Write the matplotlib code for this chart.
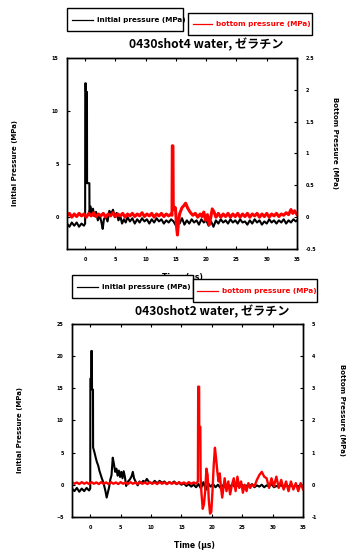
import matplotlib
matplotlib.use("Agg")
import matplotlib.pyplot as plt
from matplotlib.patches import Rectangle
from matplotlib.lines import Line2D

# ---- datos: disparo 4 (arriba) ----
t_init4 = [-3.0, -2.6, -2.2, -1.8, -1.4, -1.0, -0.6, -0.2, 0.0,
           0.02, 0.12, 0.14, 0.3, 0.32, 0.7, 0.72,
           0.9, 1.1, 1.3, 1.5, 1.8, 2.1, 2.4, 2.7, 2.9, 3.1, 3.4, 3.7, 4.0, 4.3,
           4.6, 4.9, 5.2, 5.5, 5.8, 6.1, 6.4, 6.7, 7.0, 7.4, 7.8, 8.2, 8.6, 9.0,
           9.4, 9.8, 10.2, 10.6, 11.0, 11.4, 11.8, 12.2, 12.6, 13.0, 13.4, 13.8,
           14.2, 14.6, 15.0, 15.3, 15.6, 16.0, 16.4, 16.8, 17.2, 17.6, 18.0,
           18.4, 18.8, 19.2, 19.6, 20.0, 20.4, 20.8, 21.2, 21.6, 22.0, 22.4,
           22.8, 23.2, 23.6, 24.0, 24.4, 24.8, 25.2, 25.6, 26.0, 26.4, 26.8,
           27.2, 27.6, 28.0, 28.4, 28.8, 29.2, 29.6, 30.0, 30.4, 30.8, 31.2,
           31.6, 32.0, 32.4, 32.8, 33.2, 33.6, 34.0, 34.4, 34.8, 35.0]
p_init4 = [-0.6, -0.9, -0.5, -0.8, -0.5, -0.9, -0.6, -0.8, -0.6,
           12.6, 12.6, 11.8, 11.8, 3.2, 3.2, 0.4,
           1.0, 0.3, 0.8, 0.1, 0.5, -0.3, 0.2, -0.5, -1.1, -0.2, 0.1, -0.4, 0.6, 0.3,
           0.7, 0.0, 0.4, -0.3, 0.1, -0.6, -0.2, -0.5, 0.0, -0.4, -0.1, -0.6, -0.2, -0.5,
           -0.1, -0.4, -0.2, -0.6, -0.2, -0.5, -0.1, -0.4, -0.2, -0.6, -0.3, -0.5,
           -0.2, -0.4, -0.8, -0.2, -0.6, -0.1, -0.7, -0.3, -0.6, -0.2, -0.5,
           -0.3, -0.7, -0.2, -0.5, -0.3, -0.8, -0.4, -0.9, -0.3, -0.6, -0.2,
           -0.5, -0.3, -0.6, -0.2, -0.5, -0.3, -0.6, -0.2, -0.5, -0.4, -0.7,
           -0.3, -0.6, -0.2, -0.5, -0.3, -0.7, -0.4, -0.6, -0.2, -0.5, -0.3,
           -0.6, -0.3, -0.5, -0.2, -0.6, -0.3, -0.5, -0.2, -0.4, -0.3]

t_bot4 = [-3.0, -2.6, -2.2, -1.8, -1.4, -1.0, -0.6, -0.2, 0.2, 0.6, 1.0, 1.4,
          1.8, 2.2, 2.6, 3.0, 3.4, 3.8, 4.2, 4.6, 5.0, 5.4, 5.8, 6.2, 6.6, 7.0,
          7.4, 7.8, 8.2, 8.6, 9.0, 9.4, 9.8, 10.2, 10.6, 11.0, 11.4, 11.8, 12.2,
          12.6, 13.0, 13.4, 13.8, 14.2, 14.35,
          14.4, 14.5, 14.55, 14.7, 14.9, 15.0, 15.1, 15.25, 15.4, 15.6, 15.8,
          16.0, 16.3, 16.6, 16.9, 17.2, 17.5, 17.8, 18.2, 18.6, 19.0, 19.3,
          19.6, 19.9, 20.2, 20.5, 20.8, 21.0, 21.3, 21.6, 22.0, 22.4, 22.8,
          23.2, 23.6, 24.0, 24.4, 24.8, 25.2, 25.6, 26.0, 26.4, 26.8, 27.2,
          27.6, 28.0, 28.4, 28.8, 29.2, 29.6, 30.0, 30.4, 30.8, 31.2, 31.6,
          32.0, 32.4, 32.8, 33.2, 33.6, 34.0, 34.3, 34.6, 35.0]
p_bot4 = [0.02, 0.06, 0.0, 0.05, 0.01, 0.06, 0.02, 0.05, 0.0, 0.06, 0.02, 0.07,
          0.01, 0.05, 0.02, 0.06, 0.0, 0.05, 0.02, 0.07, 0.01, 0.05, 0.02, 0.06, 0.0, 0.05,
          0.02, 0.06, 0.01, 0.05, 0.02, 0.07, 0.01, 0.05, 0.02, 0.06, 0.0, 0.05, 0.02,
          0.06, 0.01, 0.05, 0.02, 0.05, 0.03,
          1.12, 1.12, 0.2, 0.12, 0.15, 0.02, -0.15, -0.28, -0.1, 0.05, 0.1,
          0.15, 0.18, 0.22, 0.15, 0.1, 0.06, 0.03, 0.06, 0.0, 0.05, 0.01,
          0.08, -0.05, 0.04, -0.12, 0.02, 0.13, 0.08, 0.0, 0.06, 0.0, 0.05,
          0.01, 0.06, 0.0, 0.05, 0.01, 0.06, 0.0, 0.05, 0.01, 0.06, 0.0,
          0.05, 0.02, 0.06, 0.0, 0.05, 0.01, 0.06, 0.0, 0.05, 0.02, 0.06,
          0.01, 0.05, 0.03, 0.07, 0.04, 0.12, 0.06, 0.1, 0.04]

# ---- datos: disparo 2 (abajo) ----
t_init2 = [-3.0, -2.6, -2.2, -1.8, -1.4, -1.0, -0.6, -0.2, 0.0,
           0.02, 0.15, 0.17, 0.27, 0.29, 0.45, 0.47,
           0.7, 0.9, 1.1, 1.3, 1.5, 1.7, 1.9, 2.1, 2.3, 2.5, 2.7, 2.9, 3.1, 3.3,
           3.5, 3.7, 3.9, 4.1, 4.3, 4.5, 4.7, 4.9, 5.1, 5.3, 5.5, 5.7, 5.9, 6.1,
           6.3, 6.5, 6.8, 7.0, 7.2, 7.5, 7.8, 8.1, 8.4, 8.7, 9.0, 9.3, 9.6, 9.9,
           10.2, 10.6, 11.0, 11.4, 11.8, 12.2, 12.6, 13.0, 13.4, 13.8, 14.2,
           14.6, 15.0, 15.4, 15.8, 16.2, 16.6, 17.0, 17.4, 17.8, 18.2, 18.6,
           19.0, 19.4, 19.8, 20.2, 20.6, 21.0, 21.4, 21.8, 22.2, 22.6, 23.0,
           23.4, 23.8, 24.2, 24.6, 25.0, 25.4, 25.8, 26.2, 26.6, 27.0, 27.4,
           27.8, 28.2, 28.6, 29.0, 29.4, 29.8, 30.2, 30.6, 31.0, 31.4, 31.8,
           32.2, 32.6, 33.0, 33.4, 33.8, 34.2, 34.6, 35.0]
p_init2 = [-0.6, -1.0, -0.5, -1.1, -0.6, -1.0, -0.5, -0.9, -0.6,
           16.5, 16.5, 20.8, 20.8, 14.8, 14.8, 5.8,
           5.0, 4.2, 3.5, 3.0, 2.2, 1.6, 1.0, 0.5, -0.2, -1.0, -2.0, -1.2, -0.4, 0.8,
           1.5, 4.2, 3.2, 2.0, 2.5, 1.4, 2.2, 1.2, 2.0, 1.0, 2.1, 1.2, -0.2, 0.3,
           0.6, 0.8, 1.3, 2.0, 1.0, 0.4, -0.1, 0.5, 0.2, 0.6, 0.4, 0.9, 0.5, 0.3,
           0.2, 0.6, 0.2, 0.6, 0.3, 0.5, 0.1, 0.4, 0.2, 0.5, 0.1,
           0.3, 0.0, 0.2, -0.2, 0.1, -0.3, 0.0, -0.4, 0.1, -0.6, 0.4,
           -0.8, 0.2, -0.3, 0.1, -0.4, 0.0, -0.5, -0.1, -0.4, 0.0, -0.3,
           0.1, -0.4, -0.1, -0.3, 0.0, -0.5, -0.1, -0.3, 0.1, -0.4, -0.1,
           -0.3, 0.0, -0.4, -0.1, -0.3, 0.1, -0.4, -0.2, -0.3, 0.0, -0.5,
           -0.1, -0.3, 0.0, -0.4, -0.1, -0.3, 0.0, -0.2]

t_bot2 = [-3.0, -2.6, -2.2, -1.8, -1.4, -1.0, -0.6, -0.2, 0.2, 0.6, 1.0, 1.4,
          1.8, 2.2, 2.6, 3.0, 3.4, 3.8, 4.2, 4.6, 5.0, 5.4, 5.8, 6.2, 6.6, 7.0,
          7.4, 7.8, 8.2, 8.6, 9.0, 9.4, 9.8, 10.2, 10.6, 11.0, 11.4, 11.8, 12.2,
          12.6, 13.0, 13.4, 13.8, 14.2, 14.6, 15.0, 15.4, 15.8, 16.2, 16.6, 17.0,
          17.4, 17.7,
          17.75, 17.9, 17.92, 18.1, 18.15, 18.3, 18.5, 18.7, 18.9, 19.1, 19.3,
          19.5, 19.7, 19.9, 20.1, 20.3, 20.5, 20.7, 20.9, 21.1, 21.3, 21.5, 21.7,
          21.9, 22.1, 22.4, 22.7, 23.0, 23.3, 23.6, 23.9, 24.2, 24.5, 24.8, 25.1,
          25.4, 25.7, 26.0, 26.3, 26.6, 27.0, 27.4, 27.8, 28.2, 28.6, 29.0, 29.4,
          29.8, 30.2, 30.6, 31.0, 31.4, 31.8, 32.2, 32.6, 33.0, 33.4, 33.8, 34.2,
          34.6, 35.0]
p_bot2 = [0.08, 0.03, 0.07, 0.02, 0.08, 0.03, 0.07, 0.02, 0.08, 0.03, 0.07, 0.02,
          0.08, 0.03, 0.07, 0.02, 0.08, 0.03, 0.07, 0.02, 0.08, 0.03, 0.07, 0.02, 0.08, 0.03,
          0.07, 0.02, 0.08, 0.03, 0.07, 0.02, 0.08, 0.03, 0.07, 0.02, 0.08, 0.03, 0.07,
          0.02, 0.08, 0.03, 0.07, 0.02, 0.08, 0.03, 0.07, 0.02, 0.08, 0.03, 0.07,
          0.03, 0.1,
          3.05, 3.05, 1.8, 1.8, 0.2, -0.3, -0.75, -0.6, -0.2, 0.5, 0.3,
          -0.5, -0.9, -0.85, -0.2, 0.6, 1.15, 0.8, 0.4, 0.1, 0.35, -0.1, -0.4,
          -0.1, 0.2, -0.2, 0.1, -0.3, 0.0, 0.2, -0.2, 0.25, -0.1, 0.1, -0.25,
          0.0, -0.2, 0.05, -0.1, 0.0, -0.05, 0.15, 0.3, 0.4, 0.25, 0.2, -0.1,
          0.2, -0.05, 0.25, -0.1, 0.15, -0.15, 0.1, -0.2, 0.1, -0.15, 0.05, -0.2,
          0.05, -0.15]

fig = plt.figure(figsize=(3.47, 5.51), dpi=100)
jp = ['Noto Sans CJK JP', 'DejaVu Sans']


def panel(rect, t_i, p_i, t_b, p_b, lylim, lticks, rylim, rticks, rlabels, red_lw):
    ax = fig.add_axes(rect)
    ax.plot(t_i, p_i, color='black', lw=1.5)
    ax.set_xlim(-3, 35)
    ax.set_ylim(*lylim)
    ax.set_xticks([0, 5, 10, 15, 20, 25, 30, 35])
    ax.set_yticks(lticks)
    ax.tick_params(direction='in', length=2.5, width=0.8, labelsize=3.5, pad=6,
                   top=True)
    for lab in ax.get_xticklabels() + ax.get_yticklabels():
        lab.set_fontweight('bold')
    ax2 = ax.twinx()
    ax2.plot(t_b, p_b, color='red', lw=red_lw)
    ax2.set_ylim(*rylim)
    ax2.set_yticks(rticks)
    ax2.set_yticklabels(rlabels, fontsize=3.5, fontweight='bold')
    ax2.tick_params(direction='in', length=2.5, width=0.8, pad=6)
    for a in (ax, ax2):
        for s in a.spines.values():
            s.set_linewidth(1.0)
    return ax


panel([0.193, 0.548, 0.663, 0.347], t_init4, p_init4, t_bot4, p_bot4,
      (-3, 15), [0, 5, 10, 15], (-0.5, 2.5),
      [-0.5, 0, 0.5, 1, 1.5, 2, 2.5], ['-0.5', '0', '0.5', '1', '1.5', '2', '2.5'],
      2.2)
panel([0.2075, 0.062, 0.666, 0.350], t_init2, p_init2, t_bot2, p_bot2,
      (-5, 25), [-5, 0, 5, 10, 15, 20, 25], (-1, 5),
      [-1, 0, 1, 2, 3, 4, 5], ['-1', '0', '1', '2', '3', '4', '5'], 1.7)

W, H = 347.0, 551.0

# titulos y etiquetas
fig.text(206 / W, 1 - 45 / H, '0430shot4 water, ゼラチン', family=jp,
         fontsize=8.7, fontweight='bold', ha='center', va='center')
fig.text(212 / W, 1 - 312 / H, '0430shot2 water, ゼラチン', family=jp,
         fontsize=8.7, fontweight='bold', ha='center', va='center')
fig.text(15 / W, 1 - 163 / H, 'Initial Pressure (MPa)', rotation=90,
         fontsize=5, fontweight='bold', ha='center', va='center')
fig.text(335 / W, 1 - 143 / H, 'Bottom Pressure (MPa)', rotation=-90,
         fontsize=5, fontweight='bold', ha='center', va='center')
fig.text(20 / W, 1 - 430 / H, 'Initial Pressure (MPa)', rotation=90,
         fontsize=5, fontweight='bold', ha='center', va='center')
fig.text(342 / W, 1 - 410 / H, 'Bottom Pressure (MPa)', rotation=-90,
         fontsize=5, fontweight='bold', ha='center', va='center')
fig.text(182 / W, 1 - 278 / H, 'Time (μs)', fontsize=5.5, fontweight='bold',
         ha='center', va='center', zorder=1)
fig.text(194 / W, 1 - 545 / H, 'Time (μs)', fontsize=5.5, fontweight='bold',
         ha='center', va='center')


def legend_box(x0, y0, x1, y1, lx0, lx1, ly, label, color):
    r = Rectangle((x0 / W, 1 - y1 / H), (x1 - x0) / W, (y1 - y0) / H,
                  transform=fig.transFigure, facecolor='white',
                  edgecolor='black', lw=1.0, zorder=5)
    fig.patches.append(r)
    fig.lines.append(Line2D([lx0 / W, lx1 / W], [1 - ly / H, 1 - ly / H],
                            transform=fig.transFigure, color=color, lw=0.9,
                            zorder=6))
    fig.text((lx1 + 4) / W, 1 - ly / H, label, color=color, fontsize=5.2,
             fontweight='bold', ha='left', va='center', zorder=7)


legend_box(67, 8, 183, 31, 72, 93, 20, 'initial pressure (MPa)', 'black')
legend_box(188, 13, 312, 35, 193, 212, 24, 'bottom pressure (MPa)', 'red')
legend_box(72, 275, 193, 298, 77, 98, 287, 'initial pressure (MPa)', 'black')
legend_box(193, 279, 317, 302, 197, 218, 291, 'bottom pressure (MPa)', 'red')

fig.savefig('out.png', dpi=100)
